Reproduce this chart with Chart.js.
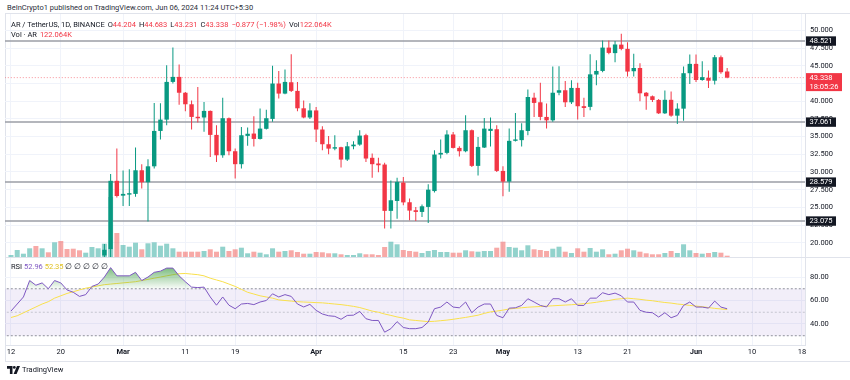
<!DOCTYPE html>
<html><head><meta charset="utf-8">
<script src="https://cdn.jsdelivr.net/npm/chart.js@4.4.1/dist/chart.umd.min.js"></script>
<style>
html,body{margin:0;padding:0;background:#fff;width:850px;height:380px;overflow:hidden;font-family:Roboto,"Liberation Sans",sans-serif;}
#wrap{position:relative;width:850px;height:380px;}
.t{position:absolute;white-space:nowrap;font-size:7.5px;color:#131722;line-height:10px;}
.r{color:#f23645}
.g{margin-left:3px}
canvas{position:absolute;left:0;}
</style></head><body>
<div id="wrap">
<div class="t" style="left:7px;top:3px;font-size:7.5px;color:#2a2e39">BeInCrypto1 published on TradingView.com, Jun 06, 2024 11:24 UTC+5:30</div>
<div style="position:absolute;left:5px;top:13px;width:845px;height:349px;border:1px solid #e0e3eb;border-right:none;box-sizing:border-box"></div>
<canvas id="price" width="850" height="243" style="top:14px;width:850px;height:243px"></canvas>
<div style="position:absolute;left:5px;top:257px;width:845px;height:1px;background:#e0e3eb"></div>
<canvas id="rsi" width="850" height="104" style="top:258px;width:850px;height:104px"></canvas>
<div class="t" style="left:11px;top:20px">AR / TetherUS, 1D, BINANCE<span class="g">O</span><span class="r">44.204</span><span class="g">H</span><span class="r">44.683</span><span class="g">L</span><span class="r">43.231</span><span class="g">C</span><span class="r">43.338</span><span class="r g">−0.877 (−1.98%)</span><span class="g">Vol</span><span class="r">122.064K</span></div>
<div class="t" style="left:11px;top:30px">Vol · AR<span class="r g">122.064K</span></div>
<div class="t" style="left:11px;top:262px">RSI <span style="color:#7e57c2">52.96</span> <span style="color:#e0c020">52.35</span> ∅ ∅ ∅ ∅ ∅</div>
<svg style="position:absolute;left:7px;top:366px" width="13" height="8" viewBox="0 0 13 8"><path d="M0 0h5.5v8h-2.6v-5.3h-2.9z" fill="#131722"/><circle cx="7.3" cy="1.4" r="1.4" fill="#131722"/><path d="M10 0h3l-3.4 8h-3z" fill="#131722"/></svg>
<div class="t" style="left:22px;top:365px;font-size:7.5px;color:#131722">TradingView</div>
</div>
<script>
// ---------- DATA ----------
const xTickDays   = [0, 8, 18, 28, 36, 49, 63, 71, 79, 91, 99, 110, 119, 127];
const xTickLabels = ['12','20','Mar','11','19','Apr','15','23','May','13','21','Jun','10','18'];
const priceTicks = [20, 22.5, 25, 27.5, 30, 32.5, 35, 37.5, 40, 42.5, 45, 47.5, 50];
const rsiTicks = [40, 60, 80];
const levels = [48.521, 37.061, 28.579, 23.075];
const lastPrice = 43.338;
const countdown = '18:05:26';

// day index 0 = Feb 12 2024; visible candles start on day 15 (Feb 27)
const firstCandleDay = 15;
const opens  = [18.2,19.1,28.75,26.65,26.8,26.9,30.24,28.55,30.8,35.8,37.4,42.73,43.44,41.2,39.57,37.8,37.7,38.63,35.24,32.36,37.6,32.93,31.1,35.1,35.43,34.67,36.1,37.5,42.5,41.08,42.68,41.46,39.0,37.7,38.7,36.0,33.92,33.3,33.5,31.75,33.63,33.87,35.2,32.0,31.2,31.05,24.5,25.9,28.5,25.72,24.59,24.35,25.06,27.3,32.46,32.7,35.3,33.4,32.93,35.9,30.86,33.45,35.8,36.04,30.15,28.64,34.4,34.5,35.8,40.5,39.85,37.78,37.3,41.2,41.55,39.85,41.88,39.3,39.2,43.77,44.28,47.58,46.8,48.0,47.4,44.24,44.7,41.2,40.7,40.18,38.29,40.2,37.96,38.95,43.96,45.28,43.0,43.3,42.9,46.22,44.204];
const highs  = [19.8,29.7,33.3,30.2,30.4,33.45,31.1,31.8,39.76,39.7,45.1,47.58,45.2,41.3,40.1,42.0,39.9,38.7,36.6,40.5,37.7,33.3,36.37,36.3,37.88,38.96,38.8,45.0,44.28,44.5,46.64,42.7,40.1,39.7,39.2,36.46,35.1,35.19,33.55,34.25,34.34,35.9,35.4,32.6,32.0,31.3,28.8,29.2,29.3,26.24,25.06,25.4,28.26,33.07,34.6,35.9,35.66,33.63,38.0,36.0,34.96,37.64,37.7,36.6,30.8,36.13,38.35,36.9,41.65,41.2,42.6,39.67,44.9,44.94,42.87,42.97,42.6,40.5,46.64,45.79,48.6,48.6,48.5,49.53,48.35,46.7,45.37,41.3,40.8,40.3,41.5,41.36,39.7,44.9,46.6,46.6,45.66,44.33,46.55,46.46,44.683];
const lows   = [17.6,17.9,26.4,25.2,25.2,26.5,27.65,23.0,30.5,34.6,36.6,42.5,39.5,38.6,36.0,37.0,35.7,32.13,31.4,32.0,32.36,29.06,30.5,33.7,33.6,34.6,36.0,37.1,40.37,41.0,41.3,38.6,37.6,37.5,34.25,33.07,32.5,33.07,30.62,31.56,33.2,33.7,31.4,29.2,29.96,22.0,22.0,23.4,25.3,23.17,23.08,23.65,22.8,27.1,31.9,32.5,33.3,32.2,32.8,30.7,29.5,33.4,33.6,30.0,26.57,27.2,34.3,33.6,35.19,37.78,37.3,36.13,37.1,40.85,39.2,39.6,37.4,37.78,38.73,42.26,44.1,46.64,45.5,47.2,43.48,43.48,40.0,38.8,39.9,38.2,38.2,37.8,36.78,37.25,42.45,42.7,42.9,41.88,42.35,43.9,43.231];
const closes = [19.0,28.75,26.6,26.9,27.0,30.24,28.55,30.8,35.8,37.4,42.73,43.44,41.2,39.57,37.78,37.6,38.63,35.24,32.36,37.6,32.93,31.1,35.19,35.4,34.67,36.13,37.6,42.5,41.08,42.73,41.46,39.0,37.7,38.7,36.0,33.92,33.3,33.5,31.75,33.63,33.87,35.14,31.9,31.1,30.95,24.5,26.0,28.6,25.7,24.54,24.35,25.15,27.5,32.46,32.7,35.3,33.4,32.93,35.9,30.86,33.54,36.13,36.1,30.15,28.64,34.4,34.6,35.9,40.6,39.76,37.78,37.3,41.2,41.55,39.85,41.88,39.29,39.05,43.8,44.28,47.58,46.83,48.02,47.4,44.19,44.7,41.12,40.7,40.18,38.29,40.2,37.96,38.95,43.96,45.28,43.0,43.4,42.9,46.22,44.1,43.338];

// volume (thousands), day 0 .. 115
const volumes = [188,658,310,818,1034,818,442,1382,1504,752,780,630,404,940,818,1250,5640,2256,1128,968,1344,724,1288,1382,1062,1250,818,498,498,498,498,564,724,498,968,564,724,874,348,498,404,254,818,498,564,630,470,310,310,470,442,348,348,254,188,188,348,254,254,188,940,1438,1194,658,564,498,376,564,658,470,470,404,404,630,536,498,564,564,874,1438,940,874,630,1100,724,658,564,780,968,498,376,818,498,846,498,724,254,310,630,780,630,498,348,254,254,376,564,376,1194,630,376,310,376,470,404,122.064];
// up(1)/down(0) for days before the first visible candle
const earlyVolUp = [1,1,1,1,0,1,0,1,0,0,0,0,1,1,1];

// RSI and its moving average, day 0 .. 115
const rsi = [51,57,63,77,73,75,70,77,75,69,67,63.5,65,72,74,80,88,81,81,81,84,77,80,84,85,87.6,87.6,81,76,71.4,71,71.4,63,56,63,56,53,57,57.5,56.5,58.7,60,65.7,63,65,63.5,57,54.5,56.7,51.6,48.5,47,46.5,44,47.3,47.5,50.7,44.5,43,43,33,36,42,37,36,36,37,41.6,53,54.4,58.7,54.4,53.8,58.7,49.6,54.4,57,57,47.3,45.3,53.5,53.8,55.8,61.5,58.7,55.8,54.5,61.5,61.5,58.7,61.5,55.8,55.8,62,62,66.6,65,66.3,64,58.7,58.7,51.6,50,49.6,45.9,49.6,45.3,47.3,55.8,58.7,54.4,54.4,53.5,59.5,54.4,52.96];
const rsiMa = [45.5,47,49.5,52,54.5,57,59,62,64,66,67.5,69,70.5,71.5,72.5,73.5,74,74.5,75,75.5,76,77,78,79,80,81,82,82.8,83,82.5,82,81,79,77.5,76,74,72,69.5,67,65.5,64,63,62,60.5,60,59.5,59,58.7,58.5,58.2,58,57.5,57,56.5,55.8,55,54,52.5,51,50,48.5,47.3,46,45,43.5,43,42.5,42,42.3,42.8,43.3,44,44.8,45.6,46.5,47.5,49,50.3,51,51.8,52.8,53.3,53.8,54.3,54.6,54.9,55.2,55.5,55.8,56.1,56.4,56.8,57.3,57.8,58.5,59.3,60,61,61.5,62,61.5,61,60.3,59.8,59,58.3,57.8,57,56.5,55.8,55.3,54.7,54,53.3,52.8,52.35];

// ---------- STYLE / LAYOUT ----------
const UP = '#089981', DOWN = '#f23645';
const VUP = 'rgba(38,166,154,0.5)', VDOWN = 'rgba(239,83,80,0.5)';
const FONT = 'Roboto, "Liberation Sans", sans-serif';
const xMin = -0.96, xMax = 127.5;
Chart.defaults.font.family = FONT;

const candleUp = opens.map((o, i) => closes[i] >= o);
const cColors = candleUp.map(u => u ? UP : DOWN);
const bodyData = opens.map((o, i) => ({x: firstCandleDay + i, y: [o, closes[i]]}));
const wickData = highs.map((h, i) => ({x: firstCandleDay + i, y: [lows[i], h]}));
const volData = volumes.map((v, i) => ({x: i, y: v}));
const volColors = volumes.map((v, i) => {
  const up = i < firstCandleDay ? earlyVolUp[i] === 1 : candleUp[i - firstCandleDay];
  return up ? VUP : VDOWN;
});
const hLine = (v) => [{x: xMin - 1, y: v}, {x: xMax + 1, y: v}];
const noPad = (s) => { s.paddingTop = 0; s.paddingBottom = 0; s.paddingLeft = 0; s.paddingRight = 0; };

const xGrid = {
  type: 'linear', min: xMin, max: xMax, offset: false,
  afterBuildTicks: s => { s.ticks = xTickDays.map(v => ({value: v})); },
  grid: {color: '#f0f3fa', drawTicks: false, offset: false},
};

const boxPlugin = {
  id: 'boxes',
  afterDraw(chart) {
    const {ctx, scales: {y}} = chart;
    const left = y.left + 1;
    ctx.save();
    ctx.font = '7.5px ' + FONT;
    ctx.textBaseline = 'middle';
    levels.forEach(v => {
      const py = y.getPixelForValue(v);
      ctx.fillStyle = '#131722';
      ctx.fillRect(left, py - 4.6, 30, 9.4);
      ctx.fillStyle = '#ffffff';
      ctx.fillText(v.toFixed(3), left + 3.5, py + 0.3);
    });
    const pp = y.getPixelForValue(lastPrice);
    ctx.fillStyle = '#f23645';
    ctx.fillRect(left, pp - 4.5, 36, 18);
    ctx.fillStyle = '#ffffff';
    ctx.fillText(lastPrice.toFixed(3), left + 3.5, pp + 0.3);
    ctx.fillText(countdown, left + 3.5, pp + 9.2);
    ctx.restore();
  }
};

new Chart(document.getElementById('price'), {
  type: 'bar',
  data: {datasets: [
    {type: 'bar', data: bodyData, backgroundColor: cColors, barThickness: 4.4, grouped: false, minBarLength: 1, inflateAmount: 0, order: 0, yAxisID: 'y'},
    {type: 'bar', data: wickData, backgroundColor: cColors, barThickness: 1, grouped: false, inflateAmount: 0, order: 1, yAxisID: 'y'},
    {type: 'line', data: hLine(lastPrice), borderColor: 'rgba(242,54,69,0.55)', borderWidth: 1, borderDash: [1, 2], pointRadius: 0, order: 2, yAxisID: 'y'},
    ...levels.map(v => ({type: 'line', data: hLine(v), borderColor: '#9b9ea6', borderWidth: 1.6, pointRadius: 0, order: 3, yAxisID: 'y'})),
    {type: 'bar', data: volData, backgroundColor: volColors, barThickness: 5, grouped: false, inflateAmount: 0, order: 5, yAxisID: 'yv'}
  ]},
  options: {
    responsive: false, animation: false, events: [],
    layout: {padding: {left: 5, right: 0, top: 0, bottom: 0}, autoPadding: false},
    plugins: {legend: {display: false}, tooltip: {enabled: false}},
    scales: {
      x: Object.assign({}, xGrid, {ticks: {display: false}, border: {display: false}, afterFit: s => { s.height = 0; noPad(s); }}),
      y: {
        position: 'right', min: 17.98, max: 52.33,
        afterBuildTicks: s => { s.ticks = priceTicks.map(v => ({value: v})); },
        ticks: {callback: v => Number(v).toFixed(3), padding: 5, color: '#131722', font: {size: 7.5}},
        grid: {color: '#f0f3fa', drawTicks: false},
        border: {color: '#e0e3eb'},
        afterFit: s => { s.width = 45; noPad(s); }
      },
      yv: {display: false, min: 0, max: 22842, afterFit: noPad}
    }
  },
  plugins: [boxPlugin]
});

const obGradient = (c) => {
  const ch = c.chart;
  const {ctx, chartArea, scales} = ch;
  if (!chartArea || !scales.y) return 'rgba(0,0,0,0)';
  const g = ctx.createLinearGradient(0, scales.y.getPixelForValue(92), 0, scales.y.getPixelForValue(70));
  g.addColorStop(0, 'rgba(67,160,71,0.85)');
  g.addColorStop(1, 'rgba(67,160,71,0.03)');
  return g;
};
const flat = (v) => [{x: xMin - 1, y: v}, {x: xMax + 1, y: v}];

new Chart(document.getElementById('rsi'), {
  type: 'line',
  data: {datasets: [
    {data: rsi.map((v, i) => ({x: i, y: v})), borderColor: '#7e57c2', borderWidth: 1, pointRadius: 0, tension: 0,
     backgroundColor: obGradient, fill: {target: {value: 70}, below: 'rgba(0,0,0,0)'}, order: 0},
    {data: rsiMa.map((v, i) => ({x: i, y: v})), borderColor: '#f9e04b', borderWidth: 1, pointRadius: 0, tension: 0, fill: false, order: 1},
    {data: flat(70), borderColor: '#8f929b', borderWidth: 1, borderDash: [2, 2], pointRadius: 0, fill: false, order: 3},
    {data: flat(30), borderColor: '#8f929b', borderWidth: 1, borderDash: [2, 2], pointRadius: 0, fill: {target: 2, above: 'rgba(126,87,194,0.1)', below: 'rgba(126,87,194,0.1)'}, backgroundColor: 'rgba(126,87,194,0.1)', order: 4},
    {data: flat(50), borderColor: 'rgba(143,146,155,0.45)', borderWidth: 1, borderDash: [2, 2], pointRadius: 0, fill: false, order: 2}
  ]},
  options: {
    responsive: false, animation: false, events: [],
    layout: {padding: {left: 5, right: 0, top: 0, bottom: 0}, autoPadding: false},
    plugins: {legend: {display: false}, tooltip: {enabled: false}},
    scales: {
      x: Object.assign({}, xGrid, {
        ticks: {
          autoSkip: false, maxRotation: 0, padding: 3, color: '#131722',
          callback: (v) => { const k = xTickDays.indexOf(v); return k >= 0 ? xTickLabels[k] : ''; },
          font: (c) => ({size: 7.5, weight: (c.tick && /[A-Za-z]/.test(xTickLabels[xTickDays.indexOf(c.tick.value)] || '')) ? 'bold' : 'normal'})
        },
        border: {color: '#e0e3eb'},
        afterFit: s => { s.height = 17; noPad(s); }
      }),
      y: {
        position: 'right', min: 22.1, max: 96.2,
        afterBuildTicks: s => { s.ticks = rsiTicks.map(v => ({value: v})); },
        ticks: {callback: v => Number(v).toFixed(2), padding: 5, color: '#131722', font: {size: 7.5}},
        grid: {color: '#f0f3fa', drawTicks: false},
        border: {color: '#e0e3eb'},
        afterFit: s => { s.width = 45; noPad(s); }
      }
    }
  }
});
</script>
</body></html>
